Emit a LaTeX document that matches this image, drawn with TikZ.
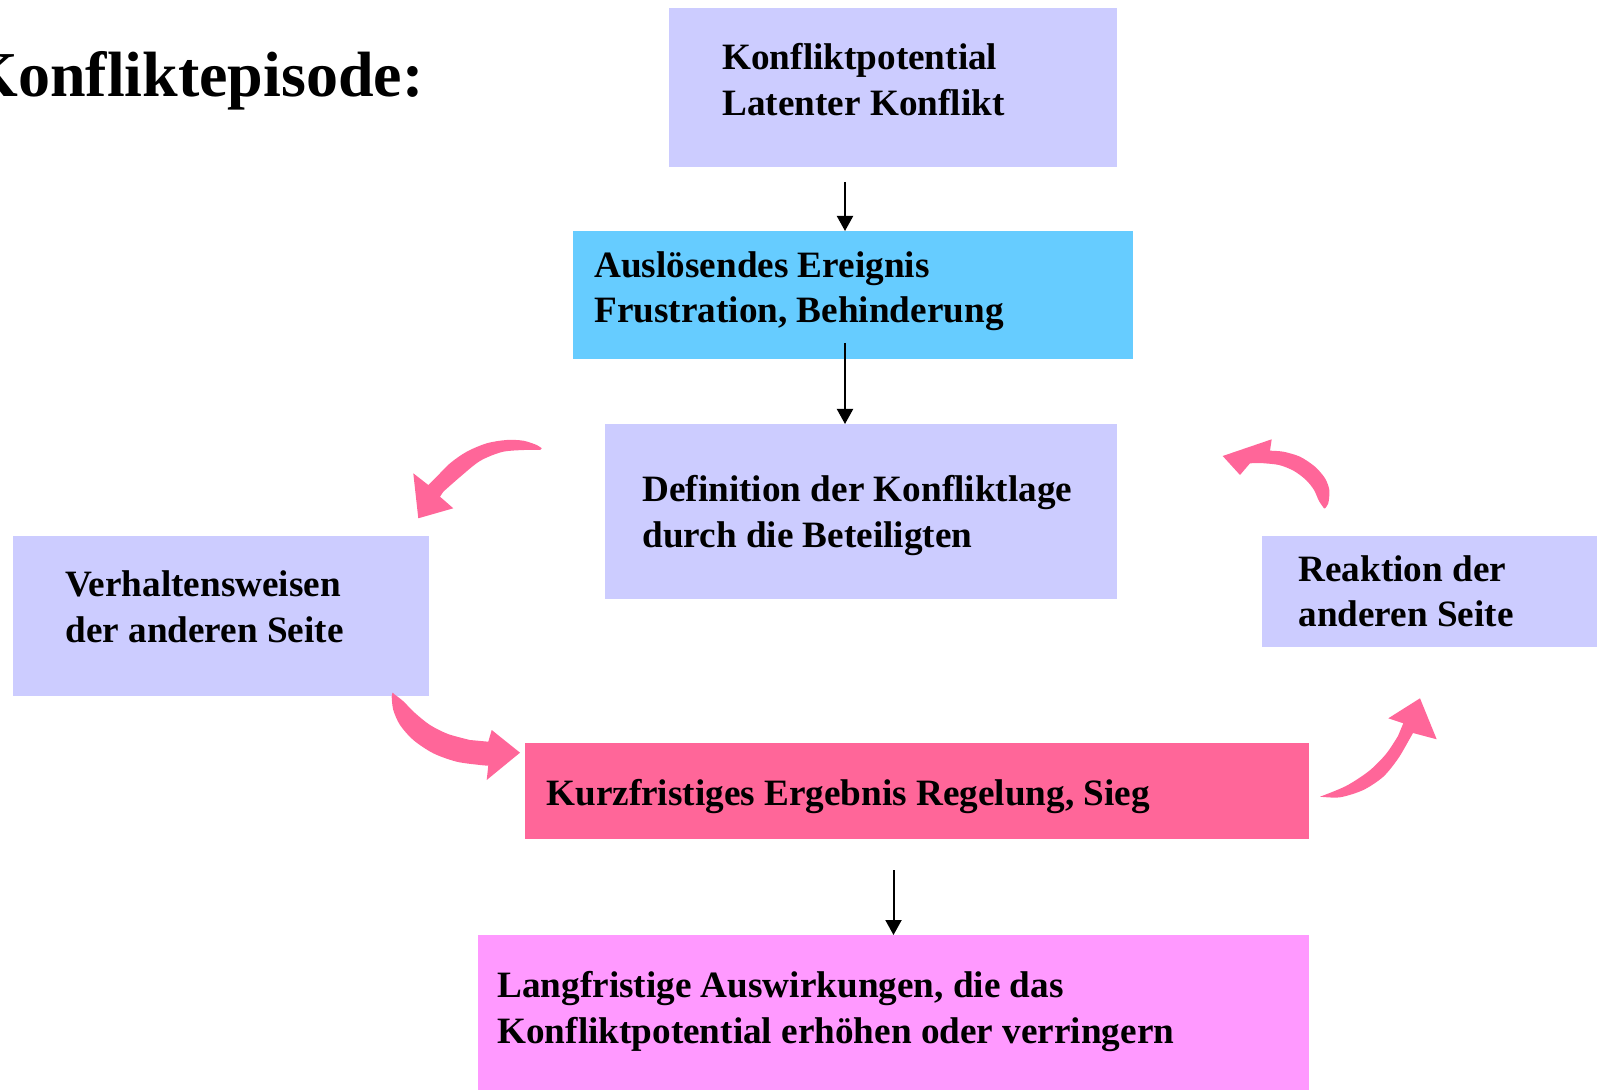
\documentclass[tikz,border=0pt]{standalone}
\usepackage{fontspec}
\setmainfont{Liberation Serif}
\usepackage{xcolor}
\usetikzlibrary{positioning,arrows.meta}

\definecolor{lavbox}{HTML}{CCCCFF}
\definecolor{skybox}{HTML}{66CCFF}
\definecolor{rosebox}{HTML}{FF6699}
\definecolor{orchidbox}{HTML}{FF99FF}

\begin{document}
\begin{tikzpicture}[x=0.5pt,y=-0.5pt,
    box/.style={inner sep=0pt, outer sep=0pt},
    txt/.style={inner sep=0pt, align=left, font=\fontsize{18.6}{22.75}\selectfont\bfseries},
    link/.style={-{Triangle[length=7.5pt,width=8pt]}, line width=1pt},
    curly/.style={fill=rosebox}]
  \useasboundingbox (0,0) rectangle (1597,1091);

  \node[anchor=base west, inner sep=0pt, font=\fontsize{32}{38}\selectfont\bfseries] (title) at (-32,97) {Konfliktepisode:};

  % boxes
  \node[box, fill=lavbox, minimum width=224pt, minimum height=79.5pt] (pot) at (893,87.5) {};
  \node[box, fill=skybox, minimum width=280pt, minimum height=64pt] (aus) at (853,295) {};
  \node[box, fill=lavbox, minimum width=256pt, minimum height=87.5pt] (def) at (861,511.5) {};
  \node[box, fill=lavbox, minimum width=208pt, minimum height=80pt] (verh) at (221,616) {};
  \node[box, fill=lavbox, minimum width=170pt, minimum height=55.5pt] (reak) at (1432,591.5) {};
  \node[box, fill=rosebox, minimum width=392pt, minimum height=48pt] (kurz) at (917,791) {};
  \node[box, fill=orchidbox, minimum width=415.5pt, minimum height=77.5pt] (lang) at (893.5,1012.5) {};

  % texts
  \node[txt, right=26.5pt of pot.west, yshift=4pt] (pottxt) {Konfliktpotential\\Latenter Konflikt};
  \node[txt, right=10.5pt of aus.west, yshift=2pt] (austxt) {Auslösendes Ereignis\\Frustration, Behinderung};
  \node[txt, right=18.5pt of def.west, yshift=-2pt] (deftxt) {Definition der Konfliktlage\\durch die Beteiligten};
  \node[txt, right=26pt of verh.west, yshift=4.5pt] (verhtxt) {Verhaltensweisen\\der anderen Seite};
  \node[txt, right=18pt of reak.west] (reaktxt) {Reaktion der\\anderen Seite};
  \node[txt, right=10.5pt of kurz.west, yshift=-3pt] (kurztxt) {Kurzfristiges Ergebnis Regelung, Sieg};
  \node[txt, right=9.5pt of lang.west, yshift=0.5pt] (langtxt) {Langfristige Auswirkungen, die das\\Konfliktpotential erhöhen oder verringern};

  % straight arrows
  \draw[link] ([xshift=-24pt,yshift=-7.5pt]pot.south) -- ([xshift=-4pt]aus.north);
  \draw[link] ([xshift=-4pt,yshift=8pt]aus.south) -- ([xshift=-8pt]def.north);
  \draw[link] ([yshift=-15.5pt]kurz.south -| lang.north) -- (lang.north);

  % curly arrows
  \fill[curly] plot[smooth] coordinates {(541.7,448.3) (536.7,445) (523.3,440.7) (506.7,440) (486.7,443.3) (466.7,451.7) (450,463.3) (436.7,476.7) (428.3,485)}
    -- (413.3,473.3) -- (418.3,518.3) -- (453.3,508.3) -- (440,496.7)
    -- plot[smooth] coordinates {(443.3,491.7) (460,477) (480,461) (502,452) (524,450) (540,450)} -- cycle;
  \fill[curly] plot[smooth] coordinates {(1325,508.3) (1328.3,503.3) (1329.3,490) (1325,478.3) (1315,466.7) (1300,456.7) (1283.3,451.7) (1270,450.7)}
    -- (1271.7,439.3) -- (1222.7,456) -- (1240,475) -- (1250,463.3)
    -- plot[smooth] coordinates {(1260,463) (1279,465) (1294,471) (1306,480) (1314,490) (1319,501) (1324,508.3)} -- cycle;
  \fill[curly] plot[smooth] coordinates {(392.7,692.7) (391.7,696.7) (393.3,710) (400,725) (413.3,740) (433.3,753.3) (456.7,761.7) (480,765) (488.3,765.7)}
    -- (486.7,780) -- (520,752.7) -- (491.7,730) -- (488.3,741.7)
    -- plot[smooth] coordinates {(470,740) (448,734) (430,725) (415,713) (403,701) (394,694)} -- cycle;
  \fill[curly] plot[smooth] coordinates {(1320,796.7) (1340,797.3) (1363.3,790) (1383.3,776.7) (1398.3,758.3) (1410,738.3) (1413,733)}
    -- (1436.7,739.3) -- (1420,698.3) -- (1388.3,718.3) -- (1403.3,723.3)
    -- plot[smooth] coordinates {(1398,736) (1386,754) (1369,771) (1346,786) (1320,796.7)} -- cycle;
\end{tikzpicture}
\end{document}
